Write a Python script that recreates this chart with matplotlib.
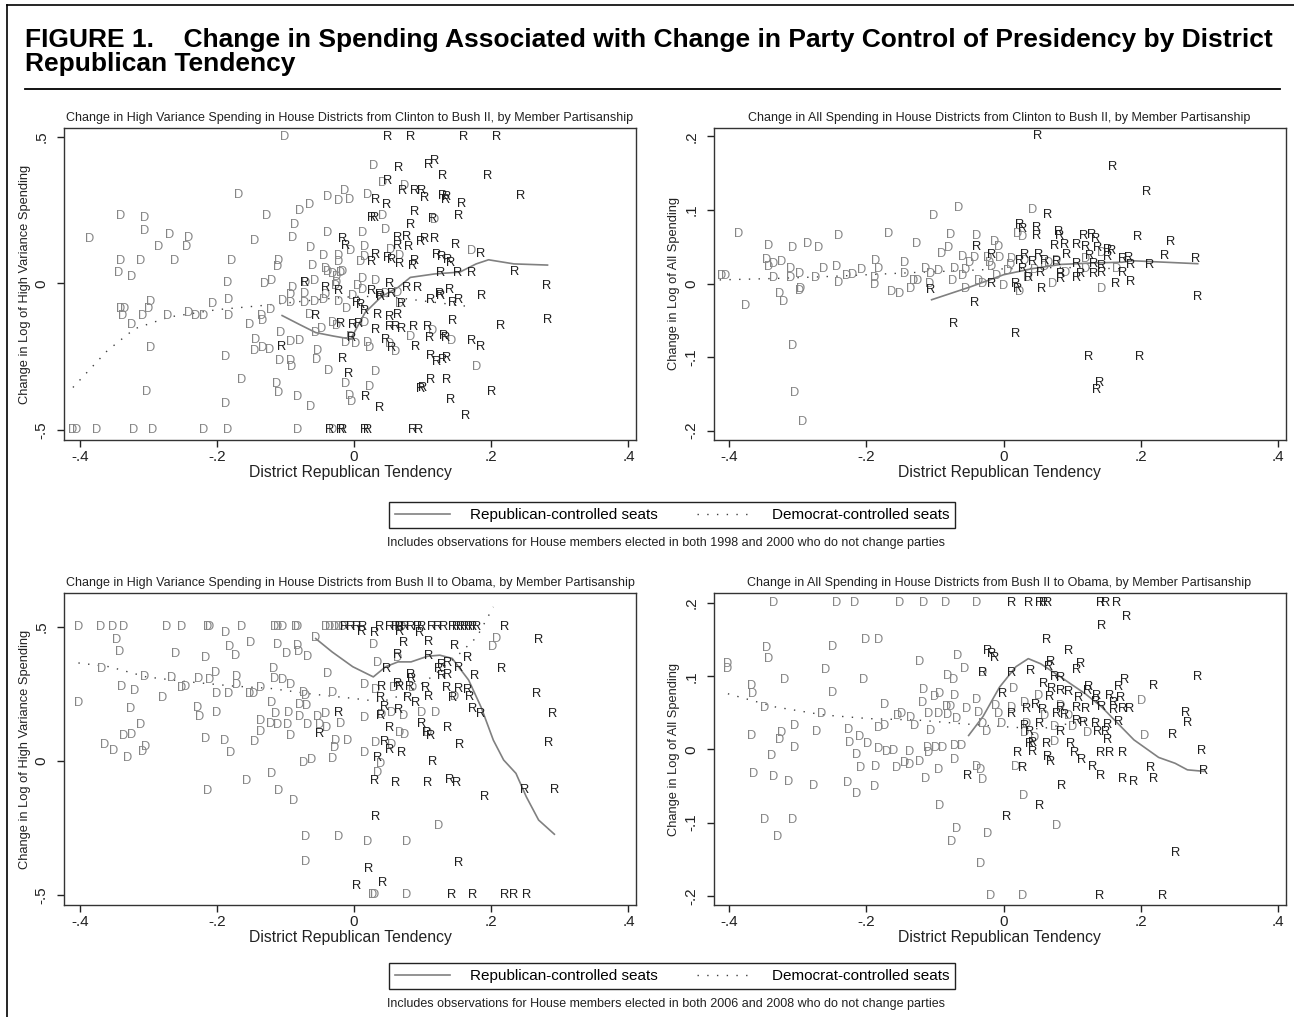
import numpy as np
import matplotlib
matplotlib.use('Agg')
import matplotlib.pyplot as plt
from matplotlib.lines import Line2D

plt.rcParams['font.family'] = ['Liberation Sans', 'DejaVu Sans']

D_COLOR = '#858585'
R_COLOR = '#1e1e1e'
FIT_COLOR = '#808080'

# ---- Clinton -> Bush II, high variance spending ----
hv1_dem = [
    (-0.102, 0.5), (0.028, 0.40), (0.042, 0.34), (0.073, 0.33), (-0.168, 0.30), (-0.014, 0.315), (-0.038, 0.295),
    (-0.023, 0.28), (-0.006, 0.285), (0.019, 0.30), (-0.065, 0.267), (-0.08, 0.245), (-0.127, 0.23), (0.041, 0.228),
    (-0.087, 0.20), (0.118, 0.215), (-0.341, 0.23), (-0.305, 0.222), (-0.306, 0.177), (-0.386, 0.15), (-0.269, 0.165),
    (-0.241, 0.155), (-0.285, 0.125), (-0.244, 0.122), (-0.145, 0.143), (-0.09, 0.153), (-0.038, 0.172), (0.013, 0.17),
    (0.046, 0.18), (-0.063, 0.12), (-0.005, 0.11), (0.016, 0.123), (0.053, 0.114), (0.172, 0.111), (-0.044, 0.094),
    (-0.023, 0.092), (0.016, 0.089), (0.066, 0.094), (-0.341, 0.075), (-0.343, 0.034), (-0.324, 0.023), (-0.311, 0.075),
    (-0.262, 0.075), (-0.179, 0.075), (-0.11, 0.075), (-0.111, 0.055), (-0.06, 0.058), (-0.041, 0.049), (-0.023, 0.072),
    (0.01, 0.072), (-0.038, 0.037), (-0.032, 0.03), (-0.02, 0.034), (-0.017, 0.037), (-0.025, 0.02), (-0.185, 0.0),
    (-0.13, -0.002), (-0.121, 0.009), (-0.09, -0.016), (-0.071, 0.0), (-0.057, 0.007), (-0.027, -0.011), (-0.025, 0.0),
    (0.013, 0.015), (0.031, 0.007), (0.005, -0.009), (0.013, -0.023), (-0.296, -0.063), (-0.299, -0.088), (-0.341, -0.088),
    (-0.335, -0.088), (-0.337, -0.11), (-0.308, -0.11), (-0.272, -0.11), (-0.324, -0.143), (-0.241, -0.102), (-0.231, -0.11),
    (-0.219, -0.11), (-0.206, -0.07), (-0.183, -0.056), (-0.183, -0.11), (-0.122, -0.091), (-0.135, -0.11), (-0.134, -0.13),
    (-0.152, -0.143), (-0.104, -0.059), (-0.092, -0.04), (-0.092, -0.068), (-0.072, -0.036), (-0.072, -0.067),
    (-0.057, -0.063), (-0.044, -0.056), (-0.041, -0.04), (-0.023, -0.063), (-0.002, -0.045), (-0.011, -0.088),
    (-0.065, -0.108), (-0.032, -0.136), (-0.048, -0.156), (-0.056, -0.17), (-0.026, -0.145), (0.016, -0.137),
    (-0.107, -0.17), (-0.143, -0.193), (-0.092, -0.199), (-0.079, -0.195), (-0.145, -0.232), (-0.134, -0.22),
    (-0.123, -0.229), (-0.013, -0.202), (-0.005, -0.184), (0.002, -0.207), (0.019, -0.202), (0.022, -0.22), (0.052, -0.208),
    (0.061, -0.234), (0.082, -0.184), (0.115, -0.164), (0.142, -0.195), (-0.296, -0.222), (-0.188, -0.252), (-0.109, -0.264),
    (-0.092, -0.264), (-0.091, -0.286), (-0.054, -0.262), (-0.053, -0.232), (-0.037, -0.3), (0.031, -0.304), (0.178, -0.286),
    (-0.164, -0.33), (-0.113, -0.343), (-0.11, -0.375), (-0.083, -0.386), (-0.012, -0.343), (0.022, -0.352), (-0.007, -0.383),
    (-0.003, -0.406), (-0.063, -0.423), (-0.303, -0.369), (-0.188, -0.41), (-0.41, -0.5), (-0.405, -0.5), (-0.375, -0.5),
    (-0.321, -0.5), (-0.294, -0.5), (-0.22, -0.5), (-0.184, -0.5), (-0.083, -0.5), (-0.032, -0.5), (0.046, -0.036),
    (0.064, -0.034), (0.067, -0.072),
]
hv1_rep = [
    (0.049, 0.5), (0.082, 0.5), (0.159, 0.5), (0.208, 0.5), (0.065, 0.394), (0.108, 0.402), (0.117, 0.418), (0.129, 0.367),
    (0.195, 0.365), (0.049, 0.348), (0.071, 0.314), (0.088, 0.314), (0.099, 0.316), (0.103, 0.29), (0.129, 0.298),
    (0.135, 0.295), (0.133, 0.282), (0.157, 0.27), (0.243, 0.298), (0.031, 0.282), (0.048, 0.265), (0.088, 0.244),
    (0.025, 0.222), (0.03, 0.222), (0.115, 0.218), (0.153, 0.228), (0.082, 0.198), (-0.017, 0.151), (-0.012, 0.128),
    (0.064, 0.154), (0.076, 0.157), (0.064, 0.128), (0.079, 0.125), (0.097, 0.139), (0.103, 0.151), (0.117, 0.151),
    (0.148, 0.13), (0.184, 0.1), (0.031, 0.097), (0.049, 0.086), (0.055, 0.08), (0.025, 0.072), (0.067, 0.066),
    (0.088, 0.077), (0.085, 0.06), (0.12, 0.095), (0.127, 0.089), (0.136, 0.08), (0.14, 0.07), (0.126, 0.034),
    (0.151, 0.034), (0.172, 0.035), (0.234, 0.038), (0.28, -0.008), (0.282, -0.125), (-0.072, 0.0), (-0.041, -0.016),
    (-0.023, -0.027), (0.052, -0.002), (0.076, -0.016), (0.093, -0.017), (0.025, -0.027), (0.037, -0.04), (0.039, -0.048),
    (0.054, -0.036), (0.112, -0.056), (0.124, -0.036), (0.126, -0.042), (0.139, -0.022), (0.144, -0.068), (0.153, -0.056),
    (0.186, -0.042), (0.004, -0.066), (0.01, -0.074), (0.016, -0.095), (0.034, -0.109), (0.052, -0.115), (0.064, -0.108),
    (0.069, -0.072), (-0.056, -0.111), (-0.02, -0.139), (-0.002, -0.141), (0.007, -0.139), (0.031, -0.16), (0.052, -0.15),
    (0.061, -0.148), (0.07, -0.155), (0.087, -0.15), (0.107, -0.15), (0.144, -0.127), (0.213, -0.146), (0.11, -0.186),
    (0.131, -0.178), (0.134, -0.186), (0.172, -0.198), (0.185, -0.218), (0.046, -0.193), (0.055, -0.22), (0.09, -0.216),
    (-0.003, -0.186), (-0.105, -0.218), (-0.017, -0.258), (-0.008, -0.309), (0.112, -0.249), (0.121, -0.268),
    (0.129, -0.26), (0.135, -0.256), (0.112, -0.328), (0.135, -0.331), (0.1, -0.356), (0.097, -0.361), (0.2, -0.369),
    (0.017, -0.386), (0.037, -0.425), (0.141, -0.398), (0.163, -0.451), (-0.035, -0.5), (-0.02, -0.5), (-0.017, -0.5),
    (0.015, -0.5), (0.019, -0.5), (0.086, -0.5), (0.094, -0.5),
]
hv1_rep_fit_x = [-0.105, -0.08, -0.056, -0.03, -0.005, 0.016, 0.04, 0.064, 0.082, 0.118, 0.154, 0.178, 0.196, 0.233, 0.282]
hv1_rep_fit_y = [-0.11, -0.14, -0.168, -0.18, -0.19, -0.1, -0.045, -0.014, 0.02, 0.032, 0.038, 0.066, 0.08, 0.066, 0.062]
hv1_dem_fit_x = [-0.41, -0.36, -0.32, -0.27, -0.2, -0.13, -0.05, 0.0, 0.05, 0.1, 0.17]
hv1_dem_fit_y = [-0.355, -0.23, -0.155, -0.115, -0.09, -0.075, -0.055, -0.045, -0.045, -0.06, -0.08]

# ---- Clinton -> Bush II, all spending ----
all1_dem = [
    (-0.387, 0.068), (-0.342, 0.051), (-0.307, 0.049), (-0.286, 0.054), (-0.27, 0.048), (-0.241, 0.065), (-0.168, 0.067),
    (-0.127, 0.054), (-0.102, 0.092), (-0.065, 0.103), (-0.077, 0.066), (-0.04, 0.065), (-0.013, 0.056), (-0.007, 0.05),
    (-0.09, 0.04), (-0.08, 0.049), (0.042, 0.1), (0.02, 0.067), (0.027, 0.063), (-0.06, 0.036), (-0.345, 0.032),
    (-0.342, 0.022), (-0.336, 0.026), (-0.324, 0.029), (-0.311, 0.02), (-0.298, 0.013), (-0.262, 0.02), (-0.244, 0.022),
    (-0.229, 0.01), (-0.22, 0.012), (-0.207, 0.018), (-0.186, 0.03), (-0.182, 0.02), (-0.188, 0.008), (-0.144, 0.028),
    (-0.144, 0.013), (-0.113, 0.02), (-0.107, 0.013), (-0.125, 0.004), (-0.095, 0.017), (-0.071, 0.02), (-0.055, 0.018),
    (-0.042, 0.035), (-0.024, 0.035), (-0.006, 0.035), (0.012, 0.033), (-0.06, 0.01), (-0.036, 0.004), (-0.018, 0.022),
    (0.006, 0.017), (0.06, 0.022), (0.077, 0.031), (0.119, 0.033), (0.143, 0.042), (-0.411, 0.01), (-0.406, 0.01),
    (-0.336, 0.008), (-0.31, 0.008), (-0.274, 0.008), (-0.241, 0.001), (-0.188, -0.002), (-0.164, -0.011),
    (-0.152, -0.014), (-0.136, -0.008), (-0.131, 0.004), (-0.108, 0.0), (-0.074, 0.004), (-0.055, -0.008), (-0.03, 0.0),
    (0.0, -0.003), (0.024, -0.012), (0.071, -0.001), (0.143, -0.007), (-0.326, -0.014), (-0.321, -0.025),
    (-0.298, -0.01), (-0.296, -0.008), (-0.376, -0.03), (-0.308, -0.085), (-0.305, -0.149), (-0.293, -0.188),
    (-0.02, 0.028), (0.01, 0.025), (0.03, 0.03), (0.045, 0.018), (0.065, 0.028), (-0.05, 0.028), (0.09, 0.015),
    (0.12, 0.02), (0.165, 0.02), (-0.01, 0.01), (0.035, 0.008),
]
all1_rep = [
    (0.049, 0.2), (0.159, 0.158), (0.208, 0.124), (0.064, 0.093), (0.024, 0.08), (0.027, 0.074), (0.048, 0.075),
    (0.048, 0.065), (0.08, 0.07), (0.081, 0.065), (0.116, 0.065), (0.129, 0.066), (0.134, 0.06), (0.195, 0.063),
    (0.243, 0.057), (-0.039, 0.05), (0.074, 0.051), (0.089, 0.052), (0.107, 0.052), (0.119, 0.05), (0.137, 0.049),
    (0.152, 0.045), (0.158, 0.044), (-0.018, 0.039), (0.03, 0.039), (0.051, 0.039), (0.092, 0.039), (0.125, 0.038),
    (0.152, 0.036), (0.182, 0.035), (0.235, 0.038), (0.28, 0.034), (0.173, 0.033), (0.185, 0.025), (0.213, 0.025),
    (0.024, 0.031), (0.042, 0.029), (0.06, 0.03), (0.077, 0.029), (0.107, 0.026), (0.131, 0.027), (0.143, 0.024),
    (0.027, 0.02), (0.054, 0.015), (0.083, 0.013), (0.113, 0.013), (0.131, 0.013), (0.143, 0.015), (0.173, 0.014),
    (0.036, 0.007), (0.083, 0.006), (0.107, 0.008), (0.185, 0.002), (0.164, 0.0), (-0.018, -0.001), (0.017, -0.001),
    (0.02, -0.008), (0.055, -0.007), (-0.106, -0.009), (0.283, -0.018), (-0.042, -0.026), (-0.073, -0.055),
    (0.017, -0.069), (0.124, -0.1), (0.199, -0.1), (0.14, -0.135), (0.136, -0.145),
]
all1_rep_fit_x = [-0.105, -0.05, 0.0, 0.04, 0.083, 0.13, 0.173, 0.188, 0.283]
all1_rep_fit_y = [-0.022, -0.005, 0.012, 0.02, 0.026, 0.028, 0.029, 0.031, 0.027]
all1_dem_fit_x = [-0.414, -0.33, -0.244, -0.131, -0.05, 0.0, 0.083, 0.179]
all1_dem_fit_y = [0.005, 0.007, 0.01, 0.015, 0.018, 0.02, 0.022, 0.02]

# ---- Bush II -> Obama, high variance spending ----
hv2_dem = [
    (-0.402, 0.5), (-0.369, 0.5), (-0.352, 0.5), (-0.336, 0.5), (-0.273, 0.5), (-0.251, 0.5), (-0.214, 0.5), (-0.21, 0.5),
    (-0.164, 0.5), (-0.116, 0.5), (-0.112, 0.5), (-0.104, 0.5), (-0.085, 0.5), (-0.083, 0.5), (-0.041, 0.5), (-0.035, 0.5),
    (-0.029, 0.5), (-0.023, 0.5), (-0.017, 0.5), (0.065, 0.5), (0.07, 0.5), (-0.346, 0.453), (-0.342, 0.407),
    (-0.26, 0.401), (-0.217, 0.385), (-0.187, 0.476), (-0.181, 0.426), (-0.173, 0.393), (-0.151, 0.441), (-0.111, 0.432),
    (-0.098, 0.398), (-0.083, 0.429), (-0.081, 0.407), (-0.068, 0.389), (-0.056, 0.46), (0.028, 0.432), (0.034, 0.366),
    (0.064, 0.383), (0.208, 0.457), (0.202, 0.424), (-0.368, 0.345), (-0.306, 0.312), (-0.266, 0.311), (-0.227, 0.306),
    (-0.211, 0.302), (-0.202, 0.33), (-0.172, 0.314), (-0.171, 0.283), (-0.137, 0.271), (-0.117, 0.342), (-0.116, 0.308),
    (-0.104, 0.302), (-0.092, 0.283), (-0.038, 0.324), (-0.339, 0.277), (-0.32, 0.262), (-0.279, 0.236), (-0.251, 0.271),
    (-0.246, 0.277), (-0.201, 0.252), (-0.183, 0.252), (-0.153, 0.25), (-0.147, 0.252), (-0.073, 0.255), (-0.071, 0.242),
    (-0.032, 0.255), (0.016, 0.283), (0.031, 0.265), (0.058, 0.271), (0.086, 0.271), (0.146, 0.24), (-0.402, 0.215),
    (-0.326, 0.196), (-0.228, 0.199), (-0.225, 0.165), (-0.201, 0.178), (-0.121, 0.215), (-0.115, 0.175), (-0.096, 0.18),
    (-0.08, 0.209), (-0.069, 0.205), (-0.079, 0.165), (-0.053, 0.165), (-0.041, 0.174), (0.016, 0.161), (0.04, 0.171),
    (0.055, 0.178), (0.072, 0.168), (0.098, 0.178), (0.119, 0.178), (-0.312, 0.134), (-0.336, 0.094), (-0.325, 0.097),
    (-0.136, 0.15), (-0.122, 0.138), (-0.111, 0.134), (-0.097, 0.134), (-0.068, 0.134), (-0.05, 0.134), (-0.02, 0.137),
    (-0.137, 0.109), (-0.092, 0.093), (-0.04, 0.122), (-0.027, 0.076), (-0.01, 0.076), (-0.216, 0.082), (-0.189, 0.076),
    (-0.145, 0.072), (0.067, 0.106), (0.073, 0.097), (0.107, 0.103), (-0.364, 0.06), (-0.35, 0.037), (-0.33, 0.01),
    (-0.309, 0.035), (-0.304, 0.053), (-0.18, 0.029), (-0.074, -0.006), (-0.062, 0.004), (-0.032, 0.006), (-0.029, 0.05),
    (0.015, 0.029), (0.031, 0.068), (0.054, 0.06), (0.039, -0.011), (0.035, -0.043), (-0.157, -0.073), (-0.12, -0.048),
    (-0.214, -0.111), (-0.11, -0.111), (-0.088, -0.149), (0.123, -0.242), (-0.071, -0.284), (-0.023, -0.284),
    (0.019, -0.301), (0.077, -0.301), (-0.071, -0.378), (0.027, -0.5), (0.03, -0.5), (0.077, -0.5),
]
hv2_rep = [
    (-0.014, 0.5), (-0.005, 0.5), (0.004, 0.5), (0.013, 0.5), (0.037, 0.5), (0.052, 0.5), (0.061, 0.5), (0.067, 0.5),
    (0.073, 0.5), (0.083, 0.5), (0.092, 0.5), (0.098, 0.5), (0.113, 0.5), (0.122, 0.5), (0.131, 0.5), (0.143, 0.5),
    (0.149, 0.5), (0.155, 0.5), (0.161, 0.5), (0.167, 0.5), (0.173, 0.5), (0.179, 0.5), (0.22, 0.5), (0.011, 0.482),
    (0.03, 0.476), (0.067, 0.48), (0.095, 0.476), (0.269, 0.451), (0.072, 0.439), (0.108, 0.445), (0.146, 0.429),
    (0.165, 0.386), (0.064, 0.395), (0.108, 0.391), (0.048, 0.345), (0.127, 0.358), (0.136, 0.364), (0.152, 0.348),
    (0.215, 0.343), (0.123, 0.342), (0.083, 0.32), (0.127, 0.317), (0.136, 0.32), (0.175, 0.317), (0.084, 0.308),
    (0.063, 0.289), (0.04, 0.277), (0.067, 0.277), (0.081, 0.275), (0.104, 0.271), (0.135, 0.271), (0.152, 0.268),
    (0.166, 0.265), (0.266, 0.25), (0.039, 0.236), (0.078, 0.236), (0.108, 0.24), (0.143, 0.234), (0.168, 0.24),
    (0.089, 0.217), (0.045, 0.202), (0.065, 0.19), (0.173, 0.193), (0.185, 0.175), (0.29, 0.175), (-0.023, 0.178),
    (0.039, 0.168), (0.098, 0.138), (0.136, 0.125), (0.052, 0.122), (0.105, 0.106), (0.111, 0.093), (-0.051, 0.1),
    (0.045, 0.07), (0.052, 0.041), (0.069, 0.029), (0.154, 0.06), (0.283, 0.066), (0.034, 0.01), (0.114, -0.002),
    (0.03, -0.073), (0.06, -0.08), (0.107, -0.08), (0.139, -0.071), (0.149, -0.08), (0.19, -0.133), (0.248, -0.108),
    (0.292, -0.108), (0.031, -0.207), (0.153, -0.381), (0.021, -0.402), (0.004, -0.466), (0.042, -0.456), (0.142, -0.5),
    (0.173, -0.5), (0.22, -0.5), (0.233, -0.5), (0.252, -0.5),
]
hv2_rep_fit_x = [-0.056, -0.032, -0.002, 0.028, 0.046, 0.064, 0.083, 0.107, 0.125, 0.143, 0.167, 0.185, 0.203, 0.218,
                 0.236, 0.251, 0.269, 0.292]
hv2_rep_fit_y = [0.457, 0.407, 0.352, 0.314, 0.352, 0.37, 0.37, 0.391, 0.395, 0.383, 0.302, 0.202, 0.078, 0.004,
                 -0.046, -0.133, -0.22, -0.273]
hv2_dem_fit_x = [-0.402, -0.357, -0.303, -0.243, -0.177, -0.122, -0.062, -0.002, 0.04, 0.077, 0.113, 0.149, 0.179, 0.203]
hv2_dem_fit_y = [0.366, 0.352, 0.314, 0.296, 0.28, 0.271, 0.25, 0.234, 0.221, 0.252, 0.314, 0.389, 0.463, 0.575]

# ---- Bush II -> Obama, all spending ----
all2_dem = [
    (-0.335, 0.2), (-0.244, 0.2), (-0.217, 0.2), (-0.151, 0.2), (-0.117, 0.2), (-0.085, 0.2), (-0.04, 0.2),
    (-0.201, 0.149), (-0.182, 0.15), (-0.345, 0.139), (-0.25, 0.14), (-0.342, 0.123), (-0.122, 0.12), (-0.067, 0.127),
    (-0.402, 0.116), (-0.402, 0.11), (-0.259, 0.108), (-0.32, 0.095), (-0.204, 0.095), (-0.057, 0.11), (-0.082, 0.1),
    (-0.073, 0.095), (-0.031, 0.105), (-0.368, 0.086), (-0.366, 0.076), (-0.25, 0.077), (-0.348, 0.057), (-0.116, 0.081),
    (-0.1, 0.072), (-0.094, 0.075), (-0.071, 0.073), (-0.174, 0.06), (-0.118, 0.063), (-0.083, 0.058), (-0.077, 0.058),
    (-0.039, 0.067), (0.015, 0.082), (0.051, 0.073), (0.201, 0.066), (-0.265, 0.048), (-0.155, 0.045), (-0.148, 0.048),
    (-0.135, 0.043), (-0.11, 0.048), (-0.095, 0.048), (-0.082, 0.047), (-0.068, 0.041), (-0.054, 0.055), (-0.036, 0.05),
    (-0.012, 0.059), (-0.007, 0.049), (0.012, 0.057), (0.03, 0.063), (-0.304, 0.032), (-0.272, 0.024), (-0.323, 0.023),
    (-0.326, 0.013), (-0.305, 0.002), (-0.368, 0.018), (-0.226, 0.026), (-0.21, 0.017), (-0.224, 0.009), (-0.199, 0.007),
    (-0.215, -0.008), (-0.182, 0.029), (-0.173, 0.032), (-0.13, 0.032), (-0.107, 0.025), (-0.031, 0.035), (-0.025, 0.024),
    (-0.003, 0.035), (0.031, 0.022), (0.074, 0.01), (0.205, 0.018), (-0.182, 0.001), (-0.17, -0.003), (-0.161, -0.002),
    (-0.137, -0.003), (-0.111, 0.002), (-0.099, 0.002), (-0.089, 0.002), (-0.071, 0.004), (-0.061, 0.005), (-0.11, -0.005),
    (-0.338, -0.009), (-0.144, -0.019), (-0.122, -0.017), (-0.137, -0.021), (-0.071, -0.015), (-0.208, -0.025),
    (-0.186, -0.024), (-0.156, -0.025), (-0.095, -0.028), (-0.039, -0.024), (-0.033, -0.028), (0.018, -0.024),
    (-0.364, -0.033), (-0.336, -0.038), (-0.313, -0.045), (-0.277, -0.05), (-0.228, -0.046), (-0.188, -0.052),
    (-0.214, -0.061), (-0.114, -0.04), (-0.03, -0.042), (0.029, -0.064), (-0.093, -0.078), (0.077, -0.105),
    (-0.348, -0.096), (-0.308, -0.096), (-0.329, -0.12), (-0.068, -0.109), (-0.076, -0.127), (-0.024, -0.115),
    (-0.033, -0.157), (-0.019, -0.2), (0.027, -0.2), (0.083, 0.059), (0.074, 0.031), (0.122, 0.022), (0.033, 0.035),
    (0.06, 0.045), (0.095, 0.045), (0.045, 0.015), (0.1, 0.03),
]
all2_rep = [
    (0.012, 0.2), (0.036, 0.2), (0.052, 0.2), (0.058, 0.2), (0.064, 0.2), (0.142, 0.2), (0.149, 0.2), (0.165, 0.2),
    (0.179, 0.181), (0.143, 0.168), (0.063, 0.149), (0.095, 0.134), (-0.023, 0.134), (-0.018, 0.131), (-0.013, 0.125),
    (0.068, 0.12), (0.112, 0.117), (0.065, 0.113), (0.107, 0.108), (0.011, 0.105), (0.039, 0.107), (-0.03, 0.104),
    (0.283, 0.099), (0.074, 0.099), (0.083, 0.097), (0.177, 0.095), (0.219, 0.087), (0.058, 0.09), (0.124, 0.085),
    (0.167, 0.085), (0.07, 0.082), (0.083, 0.08), (0.095, 0.079), (0.122, 0.08), (-0.001, 0.076), (0.067, 0.071),
    (0.11, 0.07), (0.135, 0.073), (0.154, 0.073), (0.171, 0.07), (0.134, 0.065), (0.161, 0.064), (0.046, 0.06),
    (0.083, 0.056), (0.107, 0.057), (0.119, 0.055), (0.143, 0.058), (0.16, 0.054), (0.173, 0.055), (0.183, 0.055),
    (0.265, 0.05), (0.269, 0.036), (0.012, 0.048), (0.033, 0.055), (0.057, 0.054), (0.077, 0.049), (0.089, 0.047),
    (0.107, 0.039), (0.116, 0.036), (0.134, 0.035), (0.152, 0.033), (0.167, 0.038), (0.052, 0.035), (0.03, 0.032),
    (0.038, 0.024), (0.083, 0.024), (0.137, 0.024), (0.149, 0.024), (0.247, 0.02), (0.152, 0.013), (0.038, 0.008),
    (0.042, 0.009), (0.063, 0.008), (0.098, 0.008), (0.289, -0.002), (0.021, -0.005), (0.042, -0.003), (0.103, -0.005),
    (0.142, -0.005), (0.154, -0.005), (0.173, -0.005), (0.064, -0.01), (0.068, -0.017), (0.114, -0.015), (0.027, -0.025),
    (0.13, -0.024), (0.214, -0.025), (0.292, -0.03), (-0.052, -0.037), (0.141, -0.036), (0.173, -0.04), (0.189, -0.045),
    (0.219, -0.041), (0.085, -0.05), (0.052, -0.077), (0.004, -0.092), (0.251, -0.142), (0.14, -0.2), (0.232, -0.2),
]
all2_rep_fit_x = [-0.051, -0.03, -0.006, 0.018, 0.036, 0.054, 0.083, 0.119, 0.143, 0.167, 0.19, 0.226, 0.25, 0.268, 0.292]
all2_rep_fit_y = [0.019, 0.045, 0.085, 0.113, 0.124, 0.117, 0.099, 0.076, 0.058, 0.035, 0.013, -0.011, -0.019, -0.028, -0.03]
all2_dem_fit_x = [-0.402, -0.333, -0.262, -0.196, -0.125, -0.06, 0.0, 0.054, 0.1, 0.143]
all2_dem_fit_y = [0.076, 0.058, 0.047, 0.042, 0.04, 0.035, 0.031, 0.028, 0.036, 0.045]

x_ticks = [-0.4, -0.2, 0, 0.2, 0.4]
x_tick_labels = ['-.4', '-.2', '0', '.2', '.4']
hv_ticks = [-0.5, 0, 0.5]
hv_tick_labels = ['-.5', '0', '.5']
all_ticks = [-0.2, -0.1, 0, 0.1, 0.2]
all_tick_labels = ['-.2', '-.1', '0', '.1', '.2']

W, H = 1294, 1017
fig = plt.figure(figsize=(W / 100, H / 100), dpi=100)


def panel(rect, dem, rep, rfx, rfy, dfx, dfy, title, ylabel, ylim, yticks, ylabels):
    ax = fig.add_axes(rect)
    for x, y in dem:
        ax.text(x, y, 'D', color=D_COLOR, fontsize=9.3, ha='center', va='center')
    for x, y in rep:
        ax.text(x, y, 'R', color=R_COLOR, fontsize=9.3, ha='center', va='center')
    ax.plot(rfx, rfy, color=FIT_COLOR, lw=1.2)
    ax.plot(dfx, dfy, color='#404040', lw=1.0, ls=(0, (1, 6)))
    ax.set_xlim(-0.423, 0.411)
    ax.set_ylim(*ylim)
    ax.set_xticks(x_ticks)
    ax.set_xticklabels(x_tick_labels)
    ax.set_yticks(yticks)
    ax.set_yticklabels(ylabels, rotation=90, va='center')
    ax.tick_params(direction='out', length=5, width=1, labelsize=11, colors='#222222')
    ax.tick_params(axis='y', pad=6)
    ax.tick_params(axis='x', pad=2)
    for s in ax.spines.values():
        s.set_color('#333333')
        s.set_linewidth(1.0)
    ax.set_title(title, fontsize=9, pad=5, color='#222222')
    ax.set_xlabel('District Republican Tendency', fontsize=11.3, labelpad=1, color='#222222')
    ax.set_ylabel(ylabel, fontsize=9.3, labelpad=3, color='#222222')
    return ax


lx1, lx2, aw = 64 / W, 713.5 / W, 572 / W
ah = 312 / H
panel([lx1, 1 - 440 / H, aw, ah], hv1_dem, hv1_rep, hv1_rep_fit_x, hv1_rep_fit_y, hv1_dem_fit_x, hv1_dem_fit_y,
      'Change in High Variance Spending in House Districts from Clinton to Bush II, by Member Partisanship',
      'Change in Log of High Variance Spending', (-0.534, 0.529), hv_ticks, hv_tick_labels)
panel([lx2, 1 - 440 / H, aw, ah], all1_dem, all1_rep, all1_rep_fit_x, all1_rep_fit_y, all1_dem_fit_x, all1_dem_fit_y,
      'Change in All Spending in House Districts from Clinton to Bush II, by Member Partisanship',
      'Change in Log of All Spending', (-0.2127, 0.2115), all_ticks, all_tick_labels)
panel([lx1, 1 - 905 / H, aw, ah], hv2_dem, hv2_rep, hv2_rep_fit_x, hv2_rep_fit_y, hv2_dem_fit_x, hv2_dem_fit_y,
      'Change in High Variance Spending in House Districts from Bush II to Obama, by Member Partisanship',
      'Change in Log of High Variance Spending', (-0.537, 0.627), hv_ticks, hv_tick_labels)
panel([lx2, 1 - 905 / H, aw, ah], all2_dem, all2_rep, all2_rep_fit_x, all2_rep_fit_y, all2_dem_fit_x, all2_dem_fit_y,
      'Change in All Spending in House Districts from Bush II to Obama, by Member Partisanship',
      'Change in Log of All Spending', (-0.2127, 0.2137), all_ticks, all_tick_labels)

handles = [Line2D([], [], color=FIT_COLOR, lw=1.2), Line2D([], [], color='#404040', lw=1.0, ls=(0, (1, 6)))]
for yc, years in [(515, '1998 and 2000'), (976, '2006 and 2008')]:
    fig.legend(handles, ['Republican-controlled seats', 'Democrat-controlled seats'], loc='center',
               bbox_to_anchor=(672 / W, 1 - yc / H), ncol=2, frameon=True, fancybox=False, edgecolor='#222222',
               fontsize=11, handlelength=3.6, handletextpad=1.3, columnspacing=2.6, borderpad=0.4,
               framealpha=1)
    fig.text(666 / W, 1 - (yc + 28) / H,
             'Includes observations for House members elected in both ' + years + ' who do not change parties',
             fontsize=9, ha='center', va='center', color='#222222')

fig.text(25 / W, 1 - 28 / H,
         'FIGURE 1.    Change in Spending Associated with Change in Party Control of Presidency by District\n'
         'Republican Tendency', fontsize=19, fontweight='bold', va='top', ha='left', linespacing=1.0)
fig.add_artist(Line2D([25 / W, 1280 / W], [1 - 89 / H, 1 - 89 / H], color='black', lw=1.3))
fig.add_artist(Line2D([7 / W, 7 / W], [0, 1 - 5 / H], color='black', lw=1.2))
fig.add_artist(Line2D([7 / W, 1], [1 - 5 / H, 1 - 5 / H], color='black', lw=1.2))

fig.savefig('out.png', dpi=100)
